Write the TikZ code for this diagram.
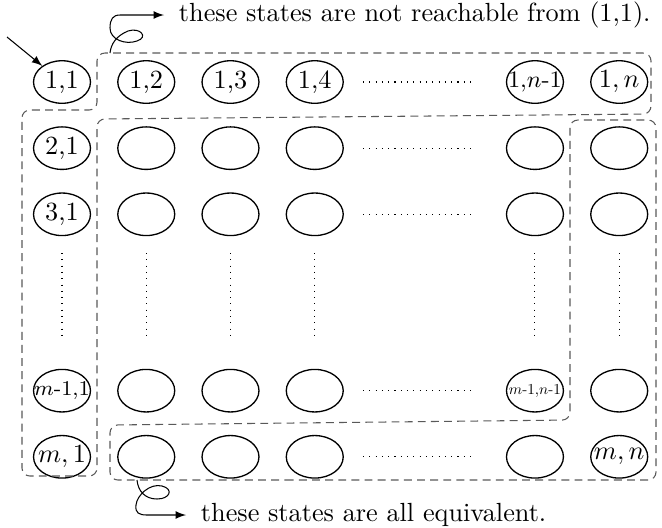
\documentclass[tikz,border=0pt]{standalone}
\usepackage{tikz}
\usepackage{graphicx}
\tikzset{
    cell/.style={draw, ellipse, minimum width=21.7pt, minimum height=16.2pt, inner sep=0pt, line width=0.5pt},
    region/.style={draw=black!65, dash pattern=on 3pt off 2pt, rounded corners=3pt},
    gap/.style={dotted},
    note/.style={anchor=west, inner sep=5.5pt},
    curl/.style={-latex},
    entry/.style = {-latex} }
\usetikzlibrary{positioning, shapes.geometric}
\newcommand{\lbl}[1]{\makebox[0pt]{#1}}

\begin{document}
\begin{tikzpicture}[x=0.381pt, y=-0.381pt, node distance=8.5pt and 9.9pt]
			\useasboundingbox (0,0) rectangle (662,527);
			% first row
			\node[cell] (s11) at (62,82) {1,1};
			\node[cell, right = of s11] (s12) {1,2};
			\node[cell, right = of s12] (s13) {1,3};
			\node[cell, right = of s13] (s14) {1,4};
			\node[cell, right = 61.7pt of s14] (s1q) {\small\lbl{1,$n$-1}};
			\node[cell, right = of s1q] (s1n) {\lbl{$1,n$}};
			% second row
			\node[cell, below = of s11] (s21) {2,1};
			\node[cell, below = of s12] (s22) {};
			\node[cell, below = of s13] (s23) {};
			\node[cell, below = of s14] (s24) {};
			\node[cell, below = of s1q] (s2q) {};
			\node[cell, below = of s1n] (s2n) {};
			% third row
			\node[cell, below = of s21] (s31) {3,1};
			\node[cell, below = of s22] (s32) {};
			\node[cell, below = of s23] (s33) {};
			\node[cell, below = of s24] (s34) {};
			\node[cell, below = of s2q] (s3q) {};
			\node[cell, below = of s2n] (s3n) {};
			% row m-1
			\node[cell, below = 50.5pt of s31] (sp1) {\footnotesize\lbl{$m$-1,1}};
			\node[cell, below = 50.5pt of s32] (sp2) {};
			\node[cell, below = 50.5pt of s33] (sp3) {};
			\node[cell, below = 50.5pt of s34] (sp4) {};
			\node[cell, below = 50.5pt of s3q] (spq) {\lbl{\scalebox{0.58}{$m$-1,$n$-1}}};
			\node[cell, below = 50.5pt of s3n] (spn) {};
			% row m
			\node[cell, below = of sp1] (sm1) {\lbl{$m,1$}};
			\node[cell, below = of sp2] (sm2) {};
			\node[cell, below = of sp3] (sm3) {};
			\node[cell, below = of sp4] (sm4) {};
			\node[cell, below = of spq] (smq) {};
			\node[cell, below = of spn] (smn) {\lbl{$m,n$}};
			% ----
			\foreach \r in {1,2,3,p,m}
				\draw[gap] (363,0 |- s\r4) -- (471,0 |- s\r4);
			\foreach \c in {1,2,3,4,q,n}
				\draw[gap] (s3\c |- 0,253) -- (s3\c |- 0,337);
			% ----
			\path[region] (300,53) -- (651,53) -- (651,114) -- (97,119) --
			(97,476) -- (22,476) -- (22,110) -- (97,110) -- (97,53) -- cycle;
			% ----
			\path[region] (300,480) -- (110,480) -- (110,425) -- (570,420) --
			(570,120) -- (656,120) -- (656,480) -- cycle;
			% ----
			\coordinate (init) at (7,37);
			\draw[entry] (init) -- (s11);
			\coordinate (topcurl) at (110,53);
			\coordinate (botcurl) at (137,480);
			\node[note] (notA) at (164,15) {these states are not reachable from (1,1).};
			\node[note] (notC) at (186,515) {these states are all equivalent.};
			\draw[curl] (topcurl) .. controls (111,44) and (116,36) .. (128,31)
			.. controls (140,27) and (149,37) .. (137,41)
			.. controls (126,45) and (110,40) .. (110,28)
			.. controls (110,19) and (113,15) .. (120,15) -- (notA.west);
			\draw[curl] (botcurl) .. controls (138,491) and (145,499) .. (157,499)
			.. controls (170,499) and (174,489) .. (162,486)
			.. controls (150,483) and (137,495) .. (136,505)
			.. controls (135,513) and (139,515) .. (147,515) -- (notC.west);
		\end{tikzpicture}
\end{document}
